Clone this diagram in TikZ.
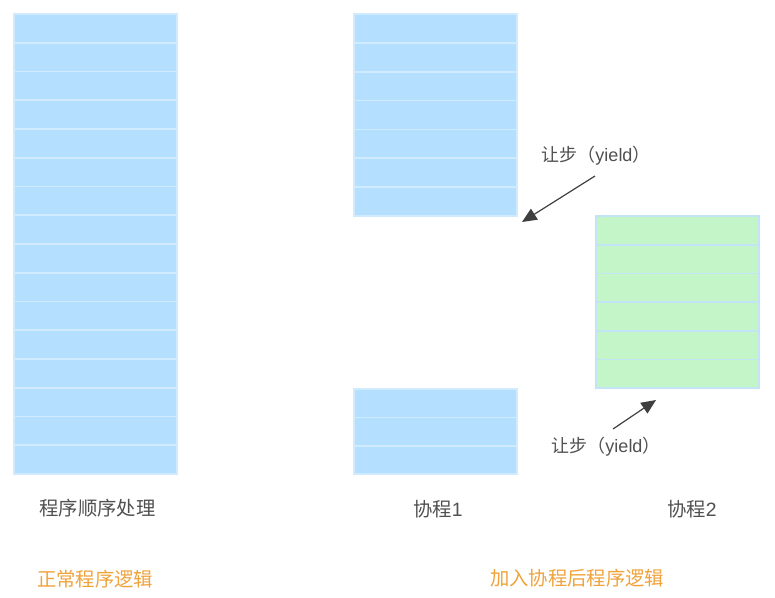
\documentclass[tikz,border=0pt]{standalone}
\usepackage{fontspec}
\setmainfont{Noto Sans CJK SC}
\newfontfamily\latfont{Liberation Sans}
\usetikzlibrary{arrows.meta}
\definecolor{rowblue}{HTML}{B5DFFF}
\definecolor{sepblue}{HTML}{D0EAFF}
\definecolor{rowgreen}{HTML}{C4F5C9}
\definecolor{sepgreen}{HTML}{C2E4F4}
\definecolor{txtgray}{HTML}{505050}
\definecolor{txtorange}{HTML}{F0A23B}
\definecolor{arrowgray}{HTML}{3F3F3F}
\tikzset{
  bluerow/.style={fill=rowblue, draw=sepblue, line width=1.2pt},
  greenrow/.style={fill=rowgreen, draw=sepgreen, line width=1.3pt},
  caption/.style={text=txtgray, font=\fontsize{14.5pt}{16pt}\selectfont, inner sep=0pt},
  headline/.style={text=txtorange, font=\fontsize{14.5pt}{16pt}\selectfont, inner sep=0pt},
  yieldlbl/.style={text=txtgray, font=\fontsize{13.5pt}{15pt}\selectfont, inner sep=0pt},
  yieldarrow/.style={draw=arrowgray, line width=0.9pt, -{Triangle[length=11pt,width=9.5pt]}}
}
\begin{document}
\begin{tikzpicture}[x=0.75pt, y=-0.75pt]
\useasboundingbox (0,0) rectangle (775,598);
\fill[white] (0,0) rectangle (775,598);
% left column: 16 rows
\foreach \i in {0,...,15} {
  \draw[bluerow] (14,{14+28.75*\i}) rectangle (177,{14+28.75*(\i+1)});
}
% coroutine 1 top: 7 rows
\foreach \i in {0,...,6} {
  \draw[bluerow] (354,{14+28.86*\i}) rectangle (517,{14+28.86*(\i+1)});
}
% coroutine 1 bottom: 3 rows
\foreach \i in {0,...,2} {
  \draw[bluerow] (354,{389+28.4*\i}) rectangle (517,{389+28.4*(\i+1)});
}
% coroutine 2: 6 rows
\foreach \i in {0,...,5} {
  \draw[greenrow] (596,{216+28.7*\i}) rectangle (759,{216+28.7*(\i+1)});
}
% labels
\node[caption] (seq) at (97.5,508) {程序顺序处理};
\node[caption] (co1) at (438,509) {协程{\latfont 1}};
\node[caption] (co2) at (692,509) {协程{\latfont 2}};
\node[headline] (normal) at (95,579) {正常程序逻辑};
\node[headline] (withco) at (577,578) {加入协程后程序逻辑};
\node[yieldlbl] (y1) at (596,156) {让步（{\latfont yield}）};
\node[yieldlbl] (y2) at (606,447) {让步（{\latfont yield}）};
% arrows
\coordinate (a1s) at (595,176);
\coordinate (a1e) at (522,222);
\coordinate (a2s) at (613,429);
\coordinate (a2e) at (656,400);
\draw[yieldarrow] (a1s) -- (a1e);
\draw[yieldarrow] (a2s) -- (a2e);
\end{tikzpicture}
\end{document}
